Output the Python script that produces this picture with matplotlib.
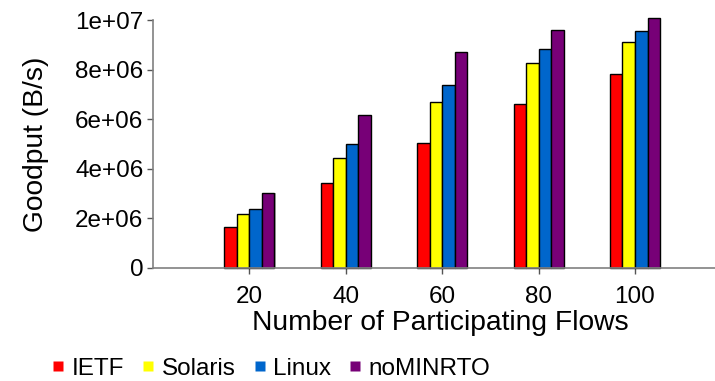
import numpy as np
import matplotlib.pyplot as plt
from matplotlib.lines import Line2D

plt.rcParams['font.family'] = ['Liberation Sans', 'DejaVu Sans']

flows = [20, 40, 60, 80, 100]
series = ['IETF', 'Solaris', 'Linux', 'noMINRTO']
ietf = [1.64e6, 3.42e6, 5.05e6, 6.64e6, 7.85e6]
solaris = [2.20e6, 4.46e6, 6.71e6, 8.28e6, 9.14e6]
linux = [2.37e6, 5.00e6, 7.40e6, 8.86e6, 9.55e6]
nominrto = [3.02e6, 6.18e6, 8.72e6, 9.59e6, 10.08e6]
colors = ['#FF0000', '#FFFF00', '#0066CC', '#770077']

fig = plt.figure(figsize=(7.15, 3.81), dpi=100)
ax = fig.add_axes([153 / 715, 1 - 268 / 381, 1 - 153 / 715, (268 - 20.3) / 381])

w = 2.6
x = np.array(flows, dtype=float)
for i, (vals, c) in enumerate(zip([ietf, solaris, linux, nominrto], colors)):
    off = (i - 1.5) * w
    # light grey shadow like the original
    ax.bar(x + off + 0.25, vals, width=w, color='#b0b0b0', edgecolor='none',
           zorder=1, clip_on=False)
    ax.bar(x + off, vals, width=w, color=c, edgecolor='black', linewidth=1.0,
           zorder=2, clip_on=False)

ax.set_xlim(0, 116.6)
ax.set_ylim(0, 1e7)
ax.set_xticks(flows)
ax.set_yticks([0, 2e6, 4e6, 6e6, 8e6, 1e7])
ax.set_yticklabels(['0', '2e+06', '4e+06', '6e+06', '8e+06', '1e+07'])
ax.tick_params(labelsize=17.5, color='#555555', length=4, width=1)
ax.tick_params(axis='y', pad=3)
ax.tick_params(axis='x', pad=9)

for s in ['top', 'right']:
    ax.spines[s].set_visible(False)
for s in ['left', 'bottom']:
    ax.spines[s].set_color('#808080')
    ax.spines[s].set_linewidth(1.2)

ax.set_xlabel('Number of Participating Flows', fontsize=20.3, labelpad=0)
ax.xaxis.set_label_coords(0.512, -0.17)
ax.set_ylabel('Goodput (B/s)', fontsize=20.3, labelpad=19)

handles = [Line2D([], [], marker='s', linestyle='none', markersize=6.5,
                  markerfacecolor=c, markeredgecolor='none') for c in colors]
fig.legend(handles, series, loc='center left', bbox_to_anchor=(0.058, 0.032),
           ncol=4, frameon=False, fontsize=17.5, handlelength=0.6,
           handletextpad=0.25, columnspacing=0.69, borderaxespad=0)

fig.savefig('out.png', dpi=100)
